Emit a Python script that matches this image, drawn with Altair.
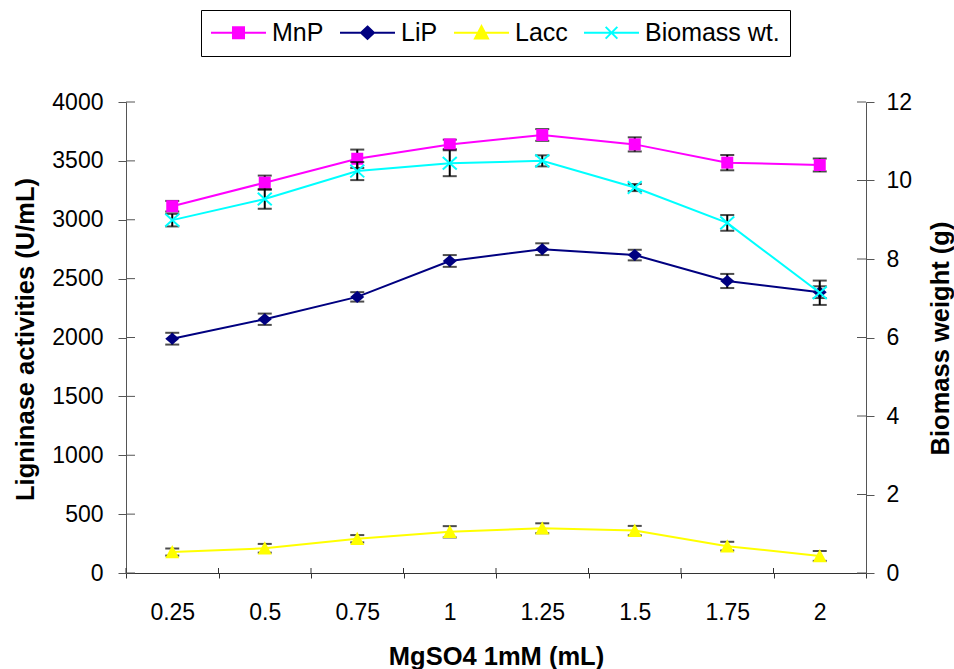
import altair as alt
import pandas as pd

# ---------------- data ----------------
x_labels = ["0.25", "0.5", "0.75", "1", "1.25", "1.5", "1.75", "2"]

mnp = [3115, 3315, 3518, 3640, 3720, 3640, 3485, 3465]
mnp_err = [45, 60, 78, 40, 50, 60, 65, 55]
lip = [1990, 2155, 2345, 2650, 2750, 2700, 2480, 2385]
lip_err = [50, 48, 40, 50, 50, 45, 60, 50]
lacc = [178, 210, 291, 350, 380, 360, 228, 145]
lacc_err = [30, 37, 31, 48, 42, 40, 37, 42]
biomass = [8.99, 9.53, 10.24, 10.44, 10.50, 9.82, 8.92, 7.14]
biomass_err = [0.16, 0.25, 0.23, 0.33, 0.14, 0.09, 0.20, 0.31]

series_names = ["MnP", "LiP", "Lacc", "Biomass wt."]
series_colors = ["#FF00FF", "#000080", "#FFFF00", "#00FFFF"]
enzyme_names = ["MnP", "LiP", "Lacc"]
enzyme_colors = ["#FF00FF", "#000080", "#FFFF00"]

left_ticks = [0, 500, 1000, 1500, 2000, 2500, 3000, 3500, 4000]
right_ticks = [0, 2, 4, 6, 8, 10, 12]

# legend symbols: line segment with marker (custom SVG paths)
legend_paths = [
    "M-4.23,0H4.23M-0.85,-0.85H0.85V0.85H-0.85Z",
    "M-4.23,0H4.23M0,-0.95L1,0L0,0.95L-1,0Z",
    "M-4.23,0H4.23M0,-1L1,0.9L-1,0.9Z",
    "M-4.23,0H4.23M-0.9,-0.9L0.9,0.9M-0.9,0.9L0.9,-0.9",
]
diamond_path = "M0,-0.86L1,0L0,0.86L-1,0Z"
triangle_path = "M0,-1L1,0.9L-1,0.9Z"
cross_path = "M-1,-0.9L1,0.9M-1,0.9L1,-0.9"

# ---------------- tables ----------------
rows = []
for name, vals, errs in [("MnP", mnp, mnp_err), ("LiP", lip, lip_err), ("Lacc", lacc, lacc_err)]:
    for xl, v, e in zip(x_labels, vals, errs):
        rows.append({"x": xl, "series": name, "value": v, "lo": v - e, "hi": v + e})
df_left = pd.DataFrame(rows)
df_bio = pd.DataFrame({
    "x": x_labels,
    "value": biomass,
    "lo": [v - e for v, e in zip(biomass, biomass_err)],
    "hi": [v + e for v, e in zip(biomass, biomass_err)],
})
df_lt = pd.DataFrame({"t": left_ticks})
df_rt = pd.DataFrame({"t": right_ticks})
df_x = pd.DataFrame({"x": x_labels})
df_legend = pd.DataFrame({"series": series_names})

FONT = "Liberation Sans"
AX_COL = "#555555"

x_scale = alt.Scale(type="band", paddingInner=0, paddingOuter=0)


def yl_scale():
    return alt.Scale(domain=[0, 4000], nice=False)


def yr_scale():
    return alt.Scale(domain=[0, 12], nice=False)


x_axis = alt.Axis(
    title="MgSO4 1mM (mL)", labelAngle=0, tickBand="extent", tickSize=5,
    labelPadding=41, labelBaseline="alphabetic", domainColor="#333333",
    tickColor="#333333", titleY=91, titleBaseline="alphabetic",
)


def xenc(**kw):
    # same axis definition on every layer so the shared x axis is kept
    return alt.X("x:N", sort=x_labels, scale=x_scale, axis=x_axis, **kw)


yl_axis = alt.Axis(
    title="Ligninase activities (U/mL)", orient="left", values=left_ticks,
    format="d", tickSize=8, labelPadding=15, domainColor=AX_COL, tickColor=AX_COL,
    titleAngle=270, titleX=-101, titleY=237, titleBaseline="middle",
    titleAlign="center", labelOverlap=False,
)
yr_axis = alt.Axis(
    title="Biomass weight (g)", orient="right", values=right_ticks,
    format="d", tickSize=8, labelPadding=12, domainColor=AX_COL, tickColor=AX_COL,
    titleAngle=270, titleX=74, titleY=236, titleBaseline="middle",
    titleAlign="center", labelOverlap=False,
)

ERR_W = 2
CAP = 14

# ---------------- enzyme (left axis) layers ----------------
base_l = alt.Chart(df_left)
err_l = base_l.mark_rule(color="black", strokeWidth=ERR_W).encode(
    x=xenc(), y=alt.Y("lo:Q", scale=yl_scale(), axis=None), y2="hi:Q")
cap_lo_l = base_l.mark_tick(color="black", size=CAP, thickness=2).encode(
    x=xenc(), y=alt.Y("lo:Q", scale=yl_scale(), axis=None))
cap_hi_l = base_l.mark_tick(color="black", size=CAP, thickness=2).encode(
    x=xenc(), y=alt.Y("hi:Q", scale=yl_scale(), axis=None))
lines_l = base_l.mark_line(strokeWidth=2).encode(
    x=xenc(),
    y=alt.Y("value:Q", scale=yl_scale(), axis=yl_axis),
    color=alt.Color("series:N", scale=alt.Scale(domain=enzyme_names, range=enzyme_colors), legend=None),
)
pts_mnp = base_l.transform_filter("datum.series == 'MnP'").mark_point(
    shape="square", filled=True, size=144, color="#FF00FF", opacity=1).encode(
    x=xenc(), y=alt.Y("value:Q", scale=yl_scale(), axis=None))
pts_lip = base_l.transform_filter("datum.series == 'LiP'").mark_point(
    shape=diamond_path, filled=True, size=196, color="#000080", opacity=1).encode(
    x=xenc(), y=alt.Y("value:Q", scale=yl_scale(), axis=None))
pts_lacc = base_l.transform_filter("datum.series == 'Lacc'").mark_point(
    shape=triangle_path, filled=True, size=196, color="#FFFF00", opacity=1).encode(
    x=xenc(), y=alt.Y("value:Q", scale=yl_scale(), axis=None))

in_ticks_l = alt.Chart(df_lt).mark_rule(color=AX_COL, strokeWidth=1).encode(
    y=alt.Y("t:Q", scale=yl_scale(), axis=None), x=alt.value(0), x2=alt.value(9))
in_ticks_x = alt.Chart(df_x).mark_rule(color="#333333", strokeWidth=1).encode(
    x=xenc(bandPosition=0), y=alt.value(466), y2=alt.value(471))

legend_def = alt.Legend(
    orient="none", legendX=75, legendY=-92, direction="horizontal", title=None,
    strokeColor="black", padding=10, labelFont=FONT, labelFontSize=25,
    labelColor="black", symbolSize=169, symbolStrokeWidth=2, symbolOffset=15,
    labelOffset=21, columnPadding=12, labelLimit=400,
)
legend_layer = alt.Chart(df_legend).transform_filter("false").mark_point(
    filled=False, opacity=1, strokeWidth=2, size=169).encode(
    stroke=alt.Stroke("series:N", scale=alt.Scale(domain=series_names, range=series_colors), legend=legend_def),
    fill=alt.Fill("series:N", scale=alt.Scale(domain=series_names, range=series_colors), legend=legend_def),
    shape=alt.Shape("series:N", scale=alt.Scale(domain=series_names, range=legend_paths), legend=legend_def),
)

# ---------------- biomass (right axis) layers ----------------
base_r = alt.Chart(df_bio)
err_r = base_r.mark_rule(color="black", strokeWidth=ERR_W).encode(
    x=xenc(), y=alt.Y("lo:Q", scale=yr_scale(), axis=None), y2="hi:Q")
cap_lo_r = base_r.mark_tick(color="black", size=CAP, thickness=2).encode(
    x=xenc(), y=alt.Y("lo:Q", scale=yr_scale(), axis=None))
cap_hi_r = base_r.mark_tick(color="black", size=CAP, thickness=2).encode(
    x=xenc(), y=alt.Y("hi:Q", scale=yr_scale(), axis=None))
line_r = base_r.mark_line(strokeWidth=2, color="#00FFFF").encode(
    x=xenc(), y=alt.Y("value:Q", scale=yr_scale(), axis=yr_axis))
pts_r = base_r.mark_point(shape=cross_path, filled=False, size=196, strokeWidth=2,
                          color="#00FFFF", opacity=1).encode(
    x=xenc(), y=alt.Y("value:Q", scale=yr_scale(), axis=None))
in_ticks_r = alt.Chart(df_rt).mark_rule(color=AX_COL, strokeWidth=1).encode(
    y=alt.Y("t:Q", scale=yr_scale(), axis=None), x=alt.value(731), x2=alt.value(740))

chart = (
    alt.layer(
        err_l, cap_lo_l, cap_hi_l, lines_l, pts_mnp, pts_lip, pts_lacc,
        err_r, cap_lo_r, cap_hi_r, line_r, pts_r,
        in_ticks_l, in_ticks_x, in_ticks_r, legend_layer,
    )
    .resolve_scale(y="independent")
    .properties(
        width=740, height=471,
        padding={"left": 126, "top": 102, "right": 88, "bottom": 96},
        autosize=alt.AutoSizeParams(type="none"),
        background="white",
    )
    .configure_axis(
        labelFont=FONT, labelFontSize=23, labelColor="black",
        titleFont=FONT, titleFontSize=25.5, titleFontWeight="bold", titleColor="black",
        grid=False,
    )
    .configure_view(strokeWidth=0)
)

chart.save("out.html", embed_options={"renderer": "svg", "actions": False})
